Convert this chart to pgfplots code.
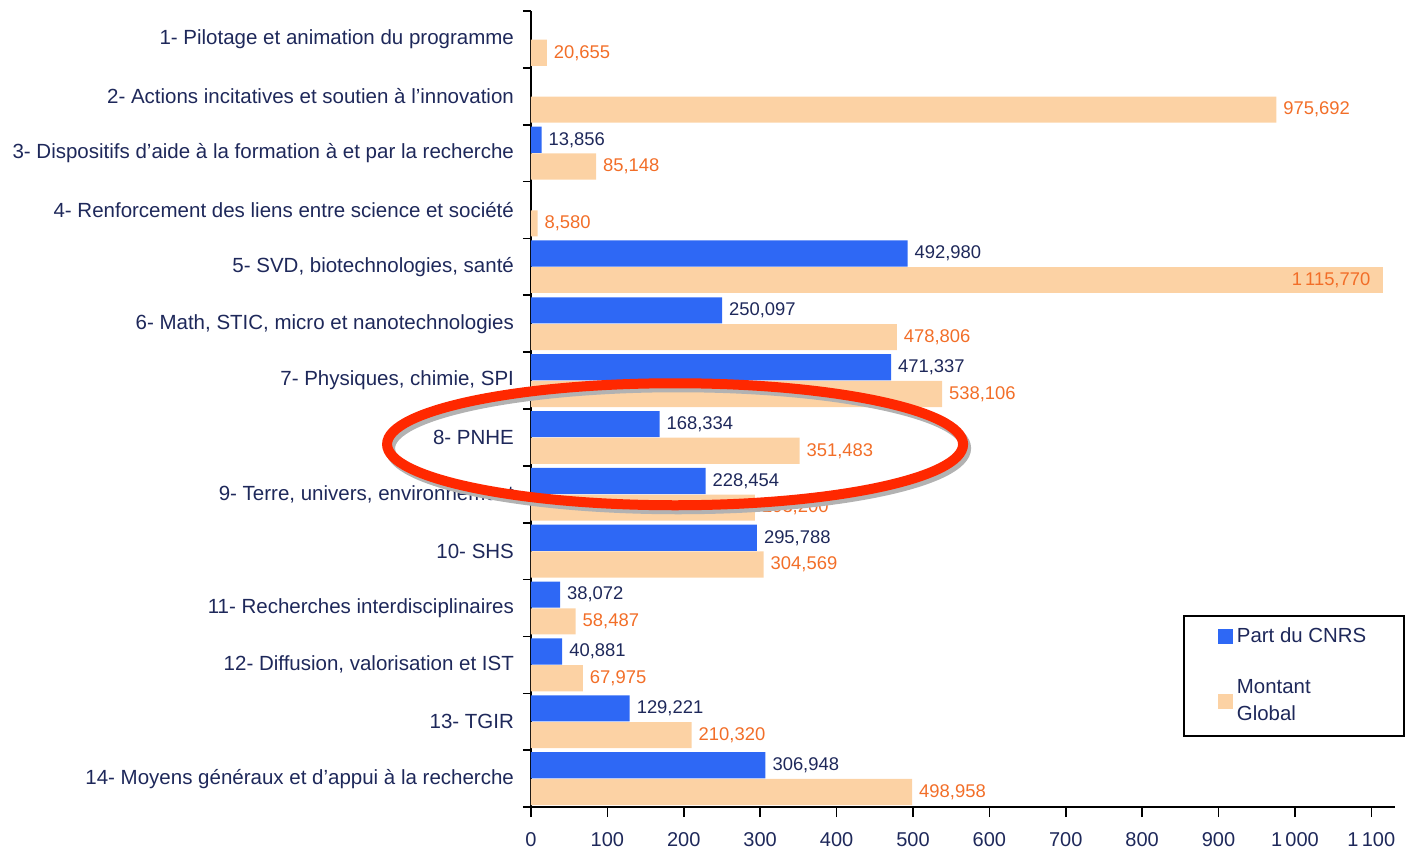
\documentclass[border=0pt]{standalone}
\usepackage{fontspec}
\setmainfont{Liberation Sans}
\usepackage{pgfplots}
\usepackage{pgfplotstable}
\pgfplotsset{compat=1.18}
\definecolor{cnrs}{RGB}{46,104,245}
\definecolor{glob}{RGB}{252,210,164}
\definecolor{navy}{RGB}{30,40,90}
\definecolor{orlab}{RGB}{242,110,40}
\definecolor{ell}{RGB}{255,40,0}

\pgfplotstableread{
y x
3 13.856
5 492.980
6 250.097
7 471.337
8 168.334
9 228.454
10 295.788
11 38.072
12 40.881
13 129.221
14 306.948
}\cnrstab

\pgfplotstableread{
y x
1 20.655
2 975.692
3 85.148
4 8.580
6 478.806
7 538.106
8 351.483
9 293.200
10 304.569
11 58.487
12 67.975
13 210.320
14 498.958
}\globtab

\pgfplotstableread{
y x
5 1115.770
}\globbig

\begin{document}
\begin{tikzpicture}
\begin{axis}[
  at={(0,0)}, anchor=south west,
  scale only axis, width=432pt, height=398pt,
  xmin=0, xmax=1131, ymin=0.5, ymax=14.5, y dir=reverse,
  axis lines=left, axis line style={-, line width=1pt, black},
  xtick={0,100,...,1100},
  xticklabels={0,100,200,300,400,500,600,700,800,900,1\,000,1\,100},
  ytick={1,...,14},
  yticklabels={
    1- Pilotage et animation du programme,
    2- Actions incitatives et soutien à l'innovation,
    3- Dispositifs d'aide à la formation à et par la recherche,
    4- Renforcement des liens entre science et société,
    {5- SVD, biotechnologies, santé},
    {6- Math, STIC, micro et nanotechnologies},
    {7- Physiques, chimie, SPI},
    8- PNHE,
    {9- Terre, univers, environnement},
    10- SHS,
    11- Recherches interdisciplinaires,
    {12- Diffusion, valorisation et IST},
    13- TGIR,
    14- Moyens généraux et d'appui à la recherche},
  minor ytick={0.5,1.5,...,14.5},
  tick align=outside,
  major tick length=5pt, minor tick length=4pt,
  major y tick style={draw=none},
  minor y tick style={black, line width=0.8pt},
  x tick style={black, line width=0.8pt},
  yticklabel style={font=\fontsize{10.25}{12}\selectfont, text=navy},
  xticklabel style={font=\fontsize{10}{11}\selectfont, text=navy, yshift=-4pt},
  xbar, bar width=0.46,
  point meta=x,
  nodes near coords={\pgfmathprintnumber[fixed,fixed zerofill,precision=3,use comma,1000 sep={\,},assume math mode=true]{\pgfplotspointmeta}},
  every node near coord/.append style={font=\fontsize{9.2}{10}\selectfont, text=navy},
  legend image code/.code={\fill[#1] (0pt,-3.5pt) rectangle (7.5pt,4pt);},
  legend cell align=left,
  legend style={at={(0.7546,0.2412)}, anchor=north west, draw=black, line width=1pt,
    font=\fontsize{10.2}{13.5}\selectfont, text=navy, inner xsep=17pt, inner ysep=4pt,
    row sep=13pt, cells={align=left}},
]
\addplot[fill=cnrs, draw=none, bar shift=-0.235, forget plot] table[x=x,y=y] {\cnrstab};
\addplot[fill=glob, draw=none, bar shift=0.235, forget plot,
  every node near coord/.append style={text=orlab}] table[x=x,y=y] {\globtab};
\addplot[fill=glob, draw=none, bar shift=0.235, forget plot,
  every node near coord/.append style={text=orlab, anchor=east, xshift=-3pt}] table[x=x,y=y] {\globbig};
\addlegendimage{fill=cnrs, draw=none}
\addlegendentry{Part du CNRS}
\addlegendimage{fill=glob, draw=none}
\addlegendentry{Montant\\Global}
\coordinate (E) at (axis cs:188.6,8.12);
\end{axis}
\draw[gray!60, line width=5pt] ([shift={(1.5pt,-2pt)}]E) ellipse [x radius=144pt, y radius=30.5pt];
\draw[ell, line width=5pt] (E) ellipse [x radius=144pt, y radius=30.5pt];
\pgfresetboundingbox
\useasboundingbox (-265.5pt,-25pt) rectangle (440pt,403.5pt);
\end{tikzpicture}
\end{document}
